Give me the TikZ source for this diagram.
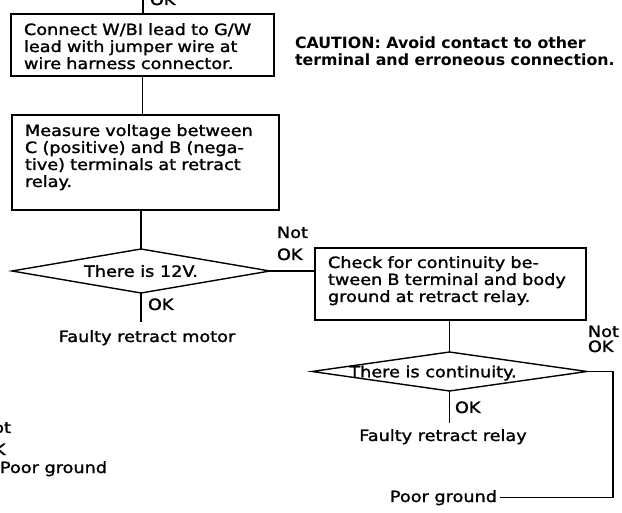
\documentclass[tikz,border=0pt]{standalone}
\usepackage{fontspec}
\setmainfont{DejaVu Sans}[FakeStretch=1.14, FakeBold=1.5]
\newfontfamily\cautionfont{DejaVu Sans}[FakeStretch=1.02]
\usetikzlibrary{shapes.geometric}
% invisible struts that fix the space above the first and below the last line
\newcommand\padtop[1]{\rule{0pt}{#1}}
\newcommand\padbot[1]{\rule[-#1]{0pt}{#1}}

\begin{document}
\begin{tikzpicture}[x=1pt, y=-1pt,
  every node/.style={font=\fontsize{15.5}{17}\selectfont, text=black},
  wire/.style={draw=black, line width=1.4pt},
  stepbox/.style={draw=black, line width=1.4pt, rectangle, anchor=north west,
    inner xsep=13pt, inner ysep=0pt, outer sep=0pt, align=left},
  decision/.style={draw=black, line width=1.4pt, diamond, inner sep=0pt,
    outer sep=0pt, text height=11.6pt, text depth=0pt},
  tag/.style={inner sep=0pt, outer sep=0pt},
]
\useasboundingbox (0,0) rectangle (622,513);
\clip (0,0) rectangle (622,513);

% process steps
\node[stepbox, text width=237pt] (box1) at (11,14)
  {\padtop{21pt}Connect W/BI lead to G/W\\lead with jumper wire at\\wire harness connector.\padbot{7pt}};
\node[stepbox, text width=241pt] (box2) at (12,115)
  {\padtop{21pt}Measure voltage between\\C (positive) and B (nega-\\tive) terminals at retract\\relay.\padbot{23pt}};
\node[stepbox, text width=245pt] (box3) at (315,248)
  {\padtop{20pt}Check for continuity be-\\tween B terminal and body\\ground at retract relay.\padbot{18pt}};

% decisions
\node[decision, minimum width=258pt, minimum height=44pt] (d1) at (141,271)
  {\makebox[0pt]{There is 12V.}};
\node[decision, minimum width=275pt, minimum height=39pt] (d2) at (449.5,371.5)
  {\makebox[0pt]{There is continuity.\hspace*{33pt}}};

% labels and results
\node[tag, anchor=base west] (oktop) at (150,5) {OK};
\node[tag, anchor=base west] (ok1) at (148,310) {OK};
\node[tag, anchor=north west, align=left, font=\fontsize{15.5}{22}\selectfont] (nok1) at (277,226.7) {Not\\OK};
\node[tag, anchor=base] (motor) at (147,342) {Faulty retract motor};
\node[tag, anchor=base west] (ok2) at (455,413) {OK};
\node[tag, anchor=base] (relay) at (443,441) {Faulty retract relay};
\node[tag, anchor=north west, align=left, font=\fontsize{15.5}{15}\selectfont] (nok2) at (588,325.7) {Not\\OK};
\node[tag, anchor=base east, inner xsep=3pt] (pg2) at (500,502) {Poor ground};
\node[tag, anchor=north west, align=left, font=\fontsize{15.5}{22}\selectfont] (nok0) at (-20,421.7) {Not\\OK};
\node[tag, anchor=base west] (pg1) at (0,473) {Poor ground};
\node[tag, anchor=north west, align=left, font=\cautionfont\bfseries\fontsize{15.5}{17}\selectfont] (caution) at (295,36.3)
  {CAUTION: Avoid contact to other\\terminal and erroneous connection.};

% connectors
\coordinate (topin) at (143,0);
\draw[wire] (topin) -- (topin |- box1.north);
\draw[wire] (box1.south) -- (box1.south |- box2.north);
\draw[wire] (d1.north) -- (d1.north |- box2.south);
\draw[wire, shorten >=8pt] (d1.south) -- (d1.south |- motor.north);
\draw[wire] (d1.east) -- (d1.east -| box3.west);
\draw[wire] (d2.north) -- (d2.north |- box3.south);
\draw[wire, shorten >=6pt] (d2.south) -- (d2.south |- relay.north);
\coordinate (rturn) at (613,0);
\draw[wire] (d2.east) -| (rturn |- pg2.east) -- (pg2.east);
\end{tikzpicture}
\end{document}
